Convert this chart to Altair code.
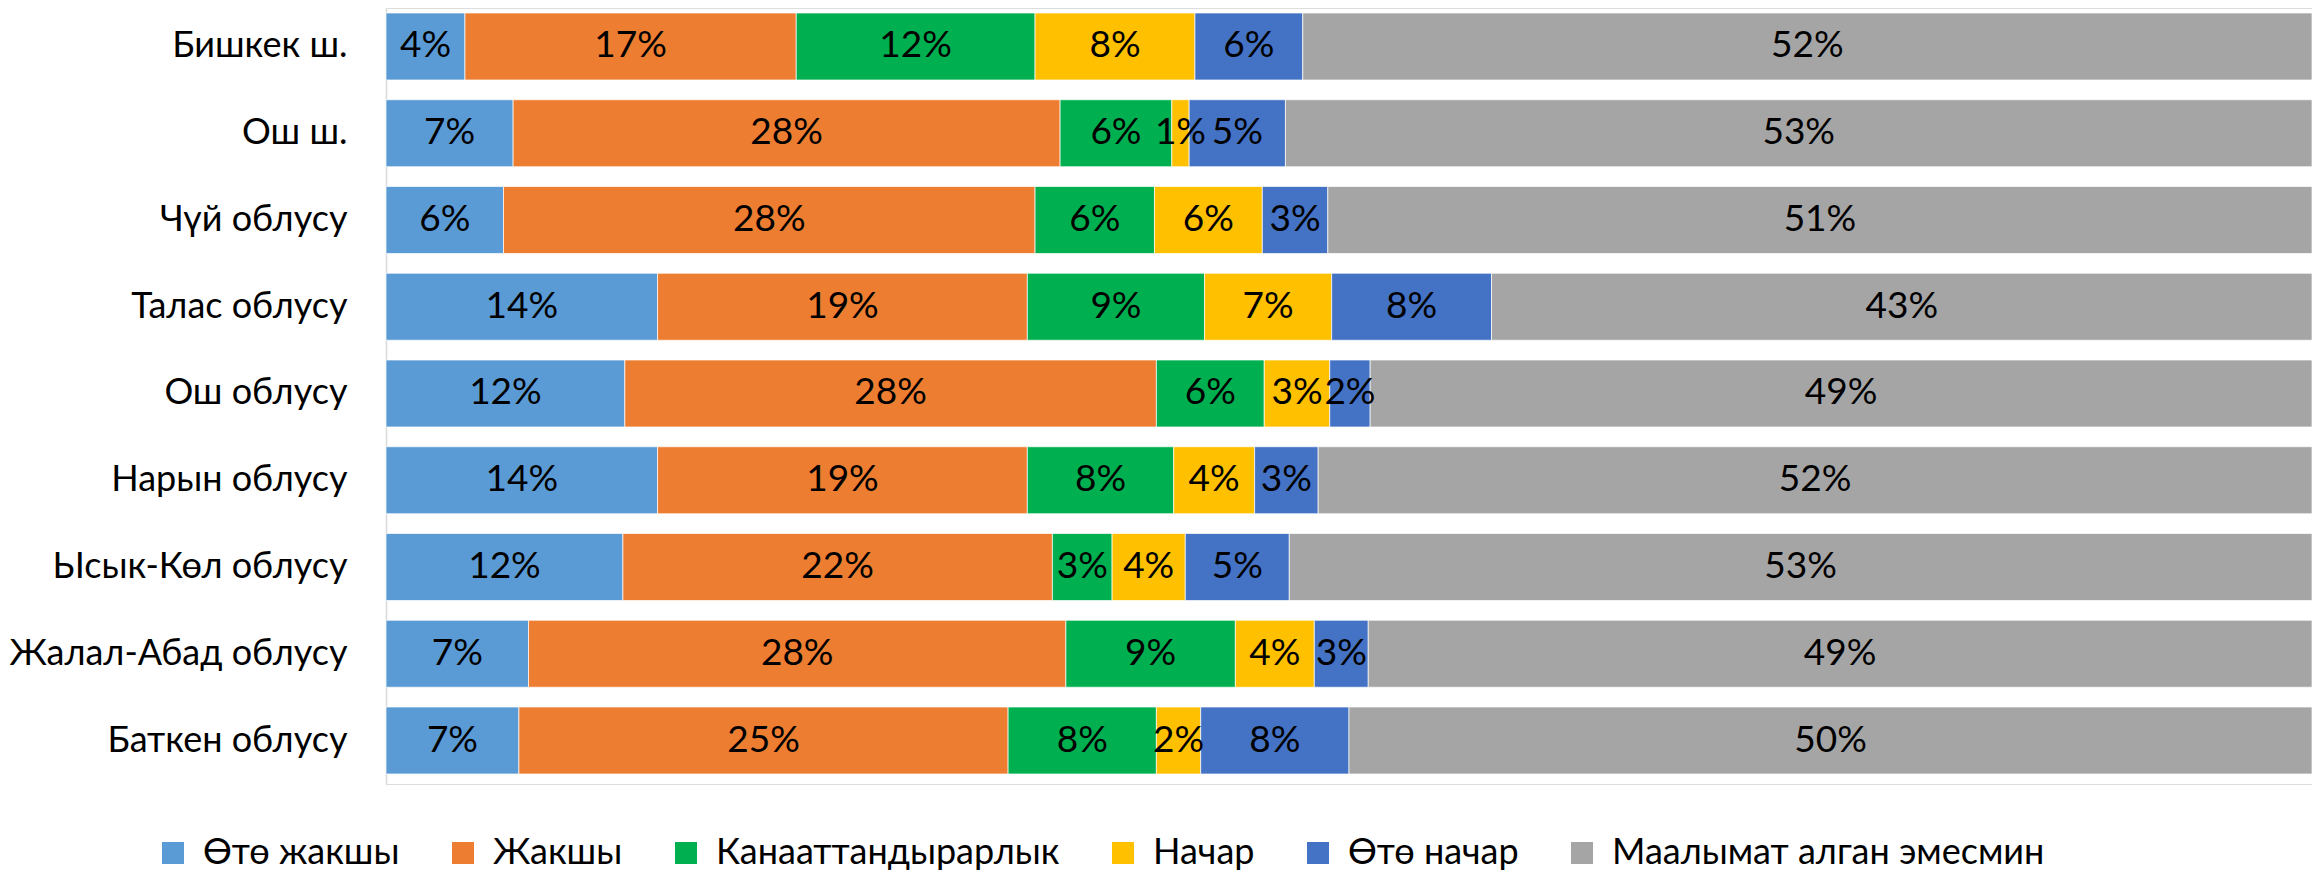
import altair as alt
import pandas as pd

regions = ["Бишкек ш.", "Ош ш.", "Чүй облусу", "Талас облусу", "Ош облусу",
           "Нарын облусу", "Ысык-Көл облусу", "Жалал-Абад облусу", "Баткен облусу"]
categories = ["Өтө жакшы", "Жакшы", "Канааттандырарлык", "Начар", "Өтө начар",
              "Маалымат алган эмесмин"]
colors = ["#5B9BD5", "#ED7D31", "#00B050", "#FFC000", "#4472C4", "#A5A5A5"]

ote_jakshy = [4.1, 6.6, 6.1, 14.1, 12.4, 14.1, 12.3, 7.4, 6.9]
jakshy = [17.2, 28.4, 27.6, 19.2, 27.6, 19.2, 22.3, 27.9, 25.4]
kanaat = [12.4, 5.8, 6.2, 9.2, 5.6, 7.6, 3.1, 8.8, 7.7]
nachar = [8.3, 0.9, 5.6, 6.6, 3.4, 4.2, 3.8, 4.1, 2.3]
ote_nachar = [5.6, 5.0, 3.4, 8.3, 2.1, 3.3, 5.4, 2.8, 7.7]
maalymat = [52.4, 53.3, 51.1, 42.6, 48.9, 51.6, 53.1, 49.0, 50.0]

series = [ote_jakshy, jakshy, kanaat, nachar, ote_nachar, maalymat]
rows = []
for ci, (cat, vals) in enumerate(zip(categories, series)):
    for ri, reg in enumerate(regions):
        rows.append({"region": reg, "category": cat, "order": ci, "value": vals[ri]})
df = pd.DataFrame(rows)

FONT = "Lato"

base = alt.Chart(df).transform_window(
    cum="sum(value)", groupby=["region"], sort=[alt.SortField("order")],
    frame=[None, 0]
).transform_calculate(
    start="datum.cum - datum.value",
    mid="datum.cum - datum.value / 2",
    label="format(datum.value, '.0f') + '%'"
)

y_enc = alt.Y("region:N", sort=regions,
              scale=alt.Scale(paddingInner=0.2277, paddingOuter=0.0864, align=0.333),
              axis=alt.Axis(title=None, ticks=False, labelFontSize=36, labelFont=FONT,
                            labelColor="#000000", labelPadding=39, labelLimit=1000,
                            domainColor="#D9D9D9", domainWidth=1.5, grid=False))
x_scale = alt.Scale(domain=[0, 100], nice=False, zero=True)

bars = base.mark_bar(stroke="white", strokeWidth=1, strokeOpacity=0.7).encode(
    y=y_enc,
    x=alt.X("start:Q", scale=x_scale, axis=None),
    x2="cum:Q",
    color=alt.Color("category:N", sort=categories,
                    scale=alt.Scale(domain=categories, range=colors),
                    legend=alt.Legend(title=None, orient="none", direction="horizontal",
                                      legendX=-231, legendY=827,
                                      symbolType="square", symbolSize=484,
                                      symbolStrokeWidth=0, labelFont=FONT,
                                      labelFontSize=36, labelColor="#000000",
                                      labelOffset=12, columnPadding=45, padding=0,
                                      labelLimit=1000)),
    order=alt.Order("order:Q"),
)

texts = base.mark_text(font=FONT, fontSize=37, color="#000000",
                       align="center", baseline="middle").encode(
    y=alt.Y("region:N", sort=regions),
    x=alt.X("mid:Q", scale=x_scale),
    text="label:N",
)

chart = alt.layer(bars, texts).properties(
    width=1926, height=776,
    autosize=alt.AutoSizeParams(type="none"),
    padding={"left": 378, "top": 0, "right": 0, "bottom": 90},
).configure_view(stroke=None).configure(background="white")

chart.save("out.html", embed_options={"renderer": "svg", "actions": False})
